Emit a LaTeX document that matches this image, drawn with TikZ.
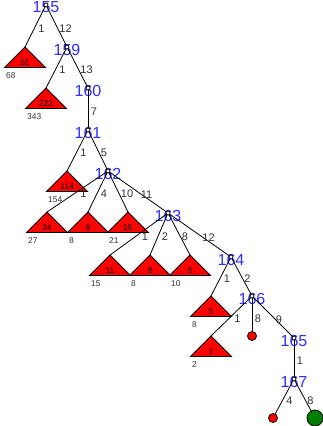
\documentclass[tikz,border=0pt]{standalone}
\usepackage{fontspec}
\setmainfont{Liberation Sans}
\usetikzlibrary{positioning}
\definecolor{idblue}{RGB}{45,45,255}
\definecolor{labelgray}{RGB}{51,51,51}
\definecolor{leafgreen}{RGB}{0,128,0}

\begin{document}
\begin{tikzpicture}[
  x=1pt, y=-1pt, line width=0.8pt,
  idnum/.style={font=\fontsize{16}{16}\selectfont, text=idblue, inner sep=0pt, yshift=-2.5pt},
  edgew/.style={right, font=\fontsize{11}{11}\selectfont, text=labelgray, inner sep=2.5pt, yshift=-2.5pt},
  subtree/.style={draw, fill=red},
  tricount/.style={font=\fontsize{8.4}{8.4}\selectfont, inner sep=0pt},
  sizelabel/.style={font=\fontsize{8.4}{8.4}\selectfont, text=labelgray, anchor=north west, inner sep=0pt},
  branch/.style={draw, fill=white, circle, inner sep=0pt, minimum size=4pt},
  leaf/.style={draw, fill=red, circle, inner sep=0pt, minimum size=9pt},
  bigleaf/.style={draw, fill=leafgreen, circle, inner sep=0pt, minimum size=16pt}
]
\useasboundingbox (0,0) rectangle (322,426);

% internal nodes
\coordinate (n155) at (46,5);
\coordinate (n159) at (67,47);
\coordinate (n160) at (88,88);
\coordinate (n161) at (88,130);
\coordinate (n162) at (108,171);
\coordinate (n163) at (168,213);
\coordinate (n164) at (231,257);
\coordinate (n166) at (252,296);
\coordinate (n165) at (294,338);
\coordinate (n167) at (294,379);
% single leaves
\coordinate (c166) at (252,336);
\coordinate (c167a) at (273,418);
\coordinate (c167b) at (315,418);

% collapsed subtrees
\foreach \name/\x/\y/\num/\sz in {t51/25/47/51/68, t222/46/88/222/343,
    t114/67/171/114/154, t24/47/212/24/27, t6/88/212/6/8, t16/128/212/16/21,
    t11/110/255/11/15, t8/150/255/8/8, t6b/190/255/6/10, t5/211/296/5/8,
    t1/211/336/1/2}{
  \coordinate (\name) at (\x,\y);
  \draw[subtree] (\name) -- +(-20.5,20.5) -- +(20.5,20.5) -- cycle;
  \node[tricount] (\name-n) at (\x,\y+15.8) {\num};
  \node[sizelabel] (\name-s) at (\x-19.2,\y+25.3) {\sz};
}

\foreach \id in {155,159,160,161,162,163,164,166,165,167}
  \node[idnum] (l\id) at (n\id) {\id};

\draw (n155) -- node[edgew]{1} (t51);
\draw (n155) -- node[edgew]{12} (n159);
\draw (n159) -- node[edgew]{1} (t222);
\draw (n159) -- node[edgew]{13} (n160);
\draw (n160) -- node[edgew]{7} (n161);
\draw (n161) -- node[edgew]{1} (t114);
\draw (n161) -- node[edgew]{5} (n162);
\draw (n162) -- node[edgew]{1} (t24);
\draw (n162) -- node[edgew]{4} (t6);
\draw (n162) -- node[edgew]{10} (t16);
\draw (n162) -- node[edgew]{11} (n163);
\draw (n163) -- node[edgew]{1} (t11);
\draw (n163) -- node[edgew]{2} (t8);
\draw (n163) -- node[edgew]{8} (t6b);
\draw (n163) -- node[edgew]{12} (n164);
\draw (n164) -- node[edgew]{1} (t5);
\draw (n164) -- node[edgew]{2} (n166);
\draw (n166) -- node[edgew]{1} (t1);
\draw (n166) -- node[edgew]{8} (c166);
\draw (n166) -- node[edgew]{9} (n165);
\draw (n165) -- node[edgew]{1} (n167);
\draw (n167) -- node[edgew]{4} (c167a);
\draw (n167) -- node[edgew]{8} (c167b);

\foreach \id in {155,159,160,161,162,163,164,166,165,167}
  \node[branch] (b\id) at (n\id) {};
\node[leaf] (leaf166) at (c166) {};
\node[leaf] (leaf167a) at (c167a) {};
\node[bigleaf] (leaf167b) at (c167b) {};
\end{tikzpicture}
\end{document}
